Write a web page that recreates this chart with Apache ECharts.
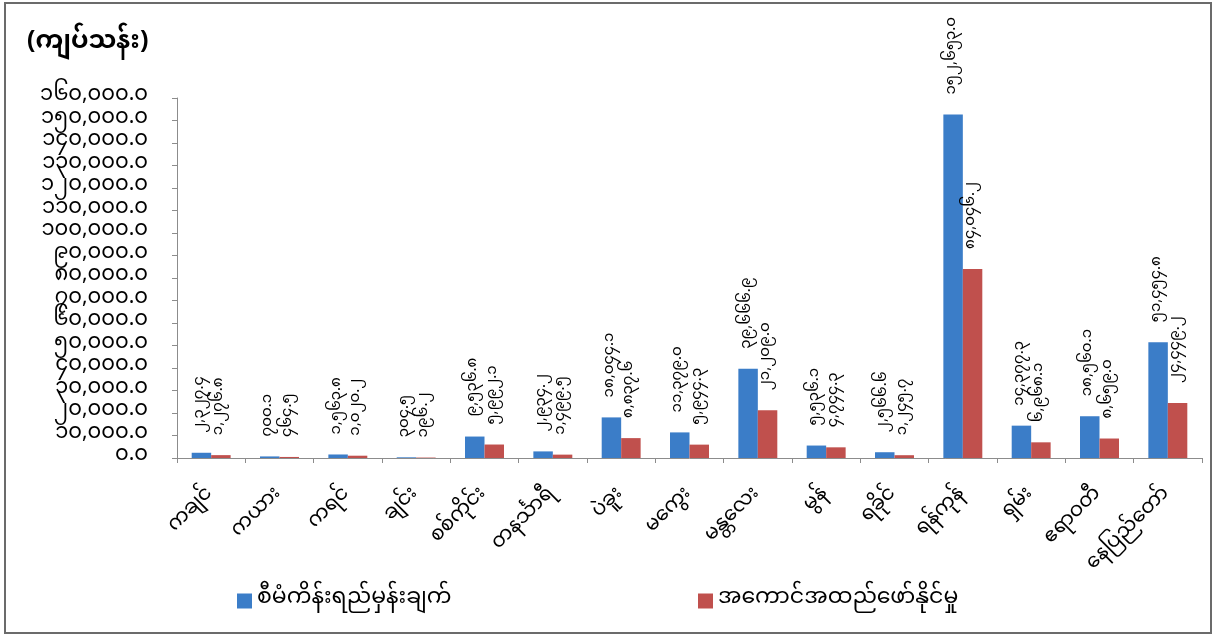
<!DOCTYPE html>
<html>
<head>
<meta charset="utf-8">
<script src="https://cdn.jsdelivr.net/npm/echarts@6/dist/echarts.min.js"></script>
<style>
  html, body { margin: 0; padding: 0; background: #fff; }
  #chart { width: 1216px; height: 638px; }
</style>
</head>
<body>
<div id="chart"></div>
<script>
// Regions and states
const categories = [
  'ကချင်', 'ကယား', 'ကရင်', 'ချင်း', 'စစ်ကိုင်း', 'တနင်္သာရီ', 'ပဲခူး', 'မကွေး',
  'မန္တလေး', 'မွန်', 'ရခိုင်', 'ရန်ကုန်', 'ရှမ်း', 'ဧရာဝတီ', 'နေပြည်တော်'
];
// Planned target (kyat million)
const planValues = [
  2327.4, 700.1, 1563.8, 304.5, 9536.8, 2934.2, 18044.1, 11379.0,
  39666.9, 5536.1, 2566.6, 152653.0, 14377.3, 18560.1, 51454.8
];
// Achieved (kyat million)
const actualValues = [
  1276.8, 464.5, 1020.2, 196.2, 5992.1, 1499.5, 8837.6, 5944.3,
  21209.0, 4744.3, 1245.7, 84046.2, 6968.1, 8659.0, 24449.2
];
const seriesNames = ['စီမံကိန်းရည်မှန်းချက်', 'အကောင်အထည်ဖော်နိုင်မှု'];
const unitLabel = '(ကျပ်သန်း)';
// Value axis range and step
const yMin = 0, yMax = 160000, yStep = 10000;

const FONT = "'Noto Sans Myanmar', 'Noto Sans', 'DejaVu Sans', sans-serif";
const BLUE = '#3b7dc8';
const RED = '#c0504d';

// Myanmar digits with thousands separators and one decimal place
function mmNumber(v) {
  const s = Number(v).toLocaleString('en-US', { minimumFractionDigits: 1, maximumFractionDigits: 1 });
  return s.replace(/[0-9]/g, d => String.fromCharCode(0x1040 + Number(d)));
}

const chart = echarts.init(document.getElementById('chart'), null, { renderer: 'canvas' });

const barLabel = {
  show: true,
  position: 'top',
  distance: 20,
  rotate: 90,
  align: 'left',
  verticalAlign: 'middle',
  fontFamily: FONT,
  fontSize: 15,
  color: '#000',
  formatter: p => mmNumber(p.value)
};

chart.setOption({
  animation: false,
  textStyle: { fontFamily: FONT },
  graphic: [
    {
      type: 'rect',
      shape: { x: 5, y: 3, width: 1206, height: 630 },
      style: { fill: 'none', stroke: '#6b6b6b', lineWidth: 2 }
    },
    {
      type: 'text',
      left: 27, top: 33,
      style: { text: unitLabel, font: "bold 25px " + FONT, fill: '#000' }
    }
  ],
  legend: [
    {
      data: [seriesNames[0]],
      left: 232, top: 585,
      itemWidth: 15, itemHeight: 15,
      icon: 'rect',
      itemGap: 6,
      textStyle: { fontFamily: FONT, fontSize: 22, color: '#000' }
    },
    {
      data: [seriesNames[1]],
      left: 693, top: 585,
      itemWidth: 15, itemHeight: 15,
      icon: 'rect',
      textStyle: { fontFamily: FONT, fontSize: 22, color: '#000' }
    }
  ],
  grid: { left: 177, right: 14, top: 98, bottom: 180, containLabel: false },
  xAxis: {
    type: 'category',
    data: categories,
    axisLine: { lineStyle: { color: '#8c8c8c', width: 1 } },
    axisTick: { show: true, length: 5, lineStyle: { color: '#8c8c8c' } },
    axisLabel: {
      interval: 0,
      rotate: 45,
      margin: 34,
      fontFamily: FONT,
      fontSize: 20,
      color: '#000'
    }
  },
  yAxis: {
    type: 'value',
    min: yMin, max: yMax, interval: yStep,
    axisLine: { show: true, lineStyle: { color: '#8c8c8c' } },
    axisTick: { show: true, length: 5, lineStyle: { color: '#8c8c8c' } },
    splitLine: { show: false },
    axisLabel: {
      margin: 29,
      fontFamily: FONT,
      fontSize: 21,
      color: '#000',
      formatter: v => mmNumber(v)
    }
  },
  series: [
    {
      name: seriesNames[0],
      type: 'bar',
      data: planValues,
      barGap: '0%',
      barCategoryGap: '43%',
      itemStyle: { color: BLUE },
      label: barLabel
    },
    {
      name: seriesNames[1],
      type: 'bar',
      data: actualValues,
      itemStyle: { color: RED },
      label: barLabel
    }
  ]
});
</script>
</body>
</html>
